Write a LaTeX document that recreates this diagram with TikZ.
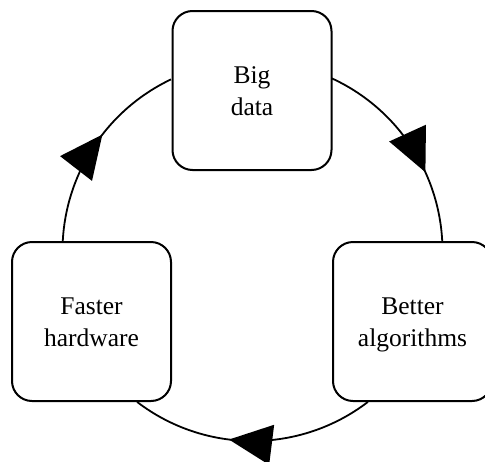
\documentclass[tikz,border=0pt]{standalone}
\usepackage{fontspec}
\setmainfont{Liberation Serif}
\usetikzlibrary{arrows.meta,decorations.markings,backgrounds}

% strut that fixes the baselines of the two-line labels
\newcommand\lblstrut{\rule[-7pt]{0pt}{32pt}}

\tikzset{
  box/.style={draw, line width=2pt, rounded corners=20pt, fill=white,
    minimum width=159pt, minimum height=159pt, align=center, inner sep=0pt,
    font=\fontsize{25.5}{32}\selectfont},
  flow/.style={line width=1.8pt, postaction={decorate},
    decoration={markings, mark=at position #1 with
      {\arrow{Triangle[length=43pt,width=40pt]}}}}
}

\begin{document}
\begin{tikzpicture}[x=1pt,y=1pt]
  \useasboundingbox (0,0) rectangle (485,-461);

  % the three stages of the cycle
  \node[box] (big)    at (252,-90.5)    {\lblstrut Big\\\lblstrut data};
  \node[box] (better) at (412.5,-321.5) {\lblstrut Better\\\lblstrut algorithms};
  \node[box] (faster) at (91.5,-321.5)  {\lblstrut Faster\\\lblstrut hardware};

  % centre of the ring that links them
  \coordinate (o) at (252.5,-251);
  \def\R{190}

  \begin{scope}[on background layer]
    \draw[flow=0.655] (o) ++(65.3:\R) arc[start angle=65.3, end angle=3.0, radius=\R];
    \draw[flow=0.595] (o) ++(-52.6:\R) arc[start angle=-52.6, end angle=-127.4, radius=\R];
    \draw[flow=0.565] (o) ++(177:\R) arc[start angle=177, end angle=115.4, radius=\R];
  \end{scope}
\end{tikzpicture}
\end{document}
